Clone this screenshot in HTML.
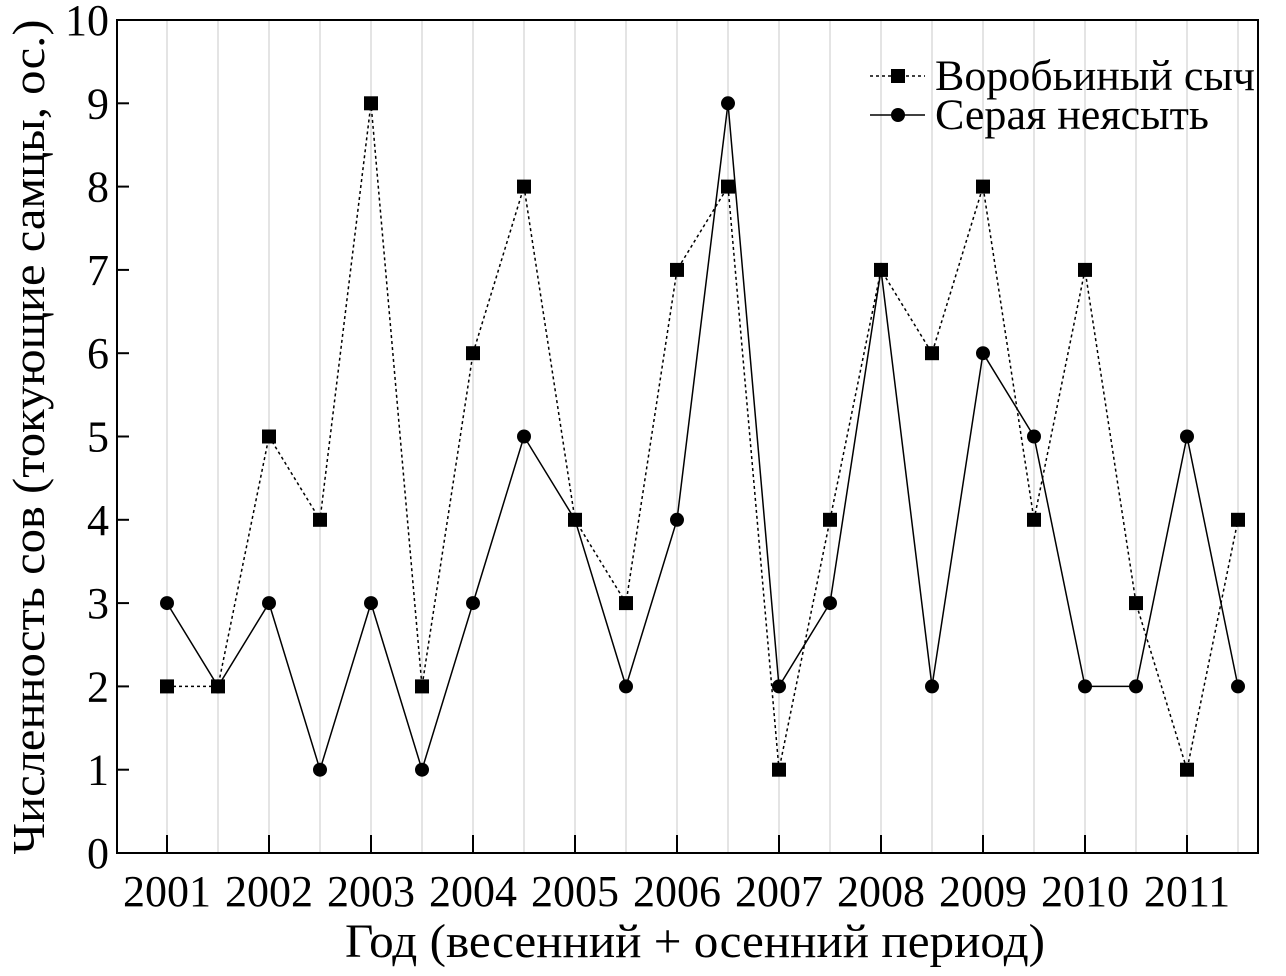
<!DOCTYPE html>
<html><head><meta charset="utf-8"><style>
body{margin:0;background:#fff;}
svg text{font-family:"Liberation Serif","DejaVu Serif",serif;fill:#000;}
</style></head><body>
<svg id="chart" width="1286" height="971" xmlns="http://www.w3.org/2000/svg">
<g id="grid"></g>
<g id="axes"></g>
<g id="series"></g>
<text x="695" y="957" font-size="48" text-anchor="middle" textLength="700" lengthAdjust="spacingAndGlyphs">Год (весенний + осенний период)</text>
<text transform="translate(44,437) rotate(-90)" font-size="46" text-anchor="middle" textLength="835" lengthAdjust="spacingAndGlyphs">Численность сов (токующие самцы, ос.)</text>
<g>
<line x1="870" y1="76" x2="925" y2="76" stroke="#000" stroke-width="1.5" stroke-dasharray="3,3"/>
<rect x="891" y="69" width="14" height="14" fill="#000"/>
<text x="935" y="90" font-size="43" textLength="320" lengthAdjust="spacingAndGlyphs">Воробьиный сыч</text>
<line x1="870" y1="115" x2="925" y2="115" stroke="#000" stroke-width="1.5"/>
<circle cx="898" cy="115" r="7" fill="#000"/>
<text x="935" y="129" font-size="43" textLength="274" lengthAdjust="spacingAndGlyphs">Серая неясыть</text>
</g>
</svg>
<script>
const years=["2001","2002","2003","2004","2005","2006","2007","2008","2009","2010","2011"];
const yTicks=[0,1,2,3,4,5,6,7,8,9,10];
const sparrowOwl=[2,2,5,4,9,2,6,8,4,3,7,8,1,4,7,6,8,4,7,3,1,4];
const tawnyOwl=[3,2,3,1,3,1,3,5,4,2,4,9,2,3,7,2,6,5,2,2,5,2];
const NS="http://www.w3.org/2000/svg";
const L=117,R=1258,T=20,B=853;
const xs=i=>167+i*51;
const ys=v=>B-v*(B-T)/10;
function mk(tag,attrs,parent){const e=document.createElementNS(NS,tag);for(const k in attrs)e.setAttribute(k,attrs[k]);parent.appendChild(e);return e;}
const grid=document.getElementById('grid'),axes=document.getElementById('axes'),ser=document.getElementById('series');
for(let i=0;i<sparrowOwl.length;i++){const g=mk('line',{x1:xs(i),x2:xs(i),y1:T,y2:B,stroke:'#e4e4e4','stroke-width':2},grid);

}
const frame=mk('rect',{x:L,y:T,width:R-L,height:B-T,fill:'none',stroke:'#000','stroke-width':2},axes);


yTicks.forEach(v=>{mk('line',{x1:L,x2:L+12,y1:ys(v),y2:ys(v),stroke:'#000','stroke-width':2},axes);
const t=mk('text',{x:L-8,y:ys(v)+15,'font-size':44,'text-anchor':'end'},axes);t.textContent=v;

});
years.forEach((y,k)=>{const x=xs(k*2);mk('line',{x1:x,x2:x,y1:B,y2:B-18,stroke:'#000','stroke-width':2},axes);
const t=mk('text',{x:x,y:906,'font-size':44,'text-anchor':'middle'},axes);t.textContent=y;

});
function line(data,dash,name){const p=mk('polyline',{points:data.map((v,i)=>xs(i)+','+ys(v)).join(' '),fill:'none',stroke:'#000','stroke-width':1.5,'stroke-dasharray':dash},ser);

}
line(sparrowOwl,'3,3','sparrow-owl-line');
line(tawnyOwl,'none','tawny-owl-line');
sparrowOwl.forEach((v,i)=>{const r=mk('rect',{x:xs(i)-7,y:ys(v)-7,width:14,height:14,fill:'#000'},ser);

});
tawnyOwl.forEach((v,i)=>{const c=mk('circle',{cx:xs(i),cy:ys(v),r:7,fill:'#000'},ser);

});
</script>
</body></html>
